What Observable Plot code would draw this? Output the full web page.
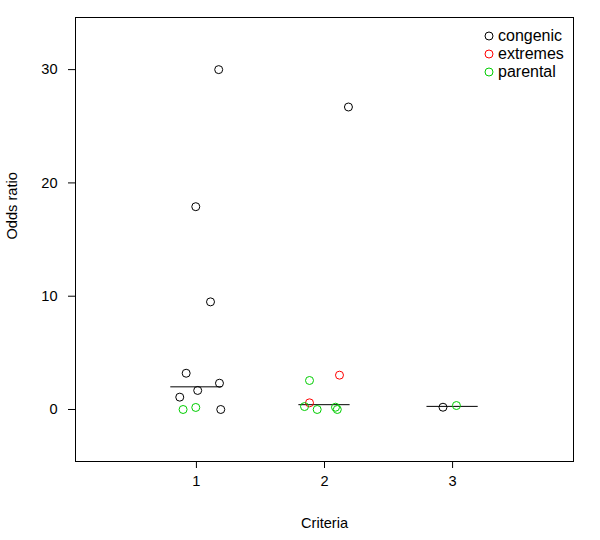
<!DOCTYPE html>
<html>
<head>
<meta charset="utf-8">
<script src="https://cdn.jsdelivr.net/npm/d3@7"></script>
<script src="https://cdn.jsdelivr.net/npm/@observablehq/plot@0.6"></script>
<style>
  html, body { margin: 0; padding: 0; background: #fff; }
  #wrap { position: relative; width: 600px; height: 540px; font-family: "Liberation Sans", Arial, Helvetica, sans-serif; }
  #legend { position: absolute; left: 483px; top: 27.5px; font-size: 16px; color: #000; }
  #legend .row { display: flex; align-items: center; height: 17.7px; }
  #legend svg { margin-right: 3px; }
</style>
</head>
<body>
<div id="wrap"><div id="legend"></div></div>
<script>
// Criteria group of each point
const criteria = [1,1,1,1,1,1,1,1,1,1, 2,2,2,2,2,2,2,2, 3,3];
// Jittered x position of each point
const xJitter = [1.174,0.995,1.11,0.92,1.18,1.01,0.87,1.19,0.896,0.995,
                 2.187,2.117,1.883,1.883,1.844,1.943,2.086,2.10,
                 2.925,3.03];
// Odds ratio values
const oddsRatio = [30.0,17.9,9.5,3.2,2.32,1.68,1.09,0.0,0.0,0.18,
                   26.7,3.03,2.56,0.59,0.26,0.0,0.2,0.0,
                   0.2,0.35];
// Source of each point
const source = ["congenic","congenic","congenic","congenic","congenic","congenic","congenic","congenic","parental","parental",
                "congenic","extremes","parental","extremes","parental","parental","parental","parental",
                "congenic","parental"];
const seriesNames = ["congenic","extremes","parental"];
const seriesColors = ["#000000","#ff0000","#00cd00"];
const xTicks = [1,2,3];
const yTicks = [0,10,20,30];
const xLabel = "Criteria";
const yLabel = "Odds ratio";

const points = criteria.map((c,i) => ({c, x: xJitter[i], y: oddsRatio[i], s: source[i]}));
const medians = xTicks.map(c => ({c, m: d3.median(points.filter(p => p.c === c), p => p.y)}));
const half = 0.2;

const chart = Plot.plot({
  width: 600,
  height: 540,
  marginLeft: 75,
  marginRight: 27,
  marginTop: 17,
  marginBottom: 79,
  style: {fontFamily: '"Liberation Sans", Arial, Helvetica, sans-serif', fontSize: "14.6px", background: "#fff", color: "#000"},
  x: {domain: [0.056, 3.944]},
  y: {domain: [-4.59, 34.6]},
  color: {domain: seriesNames, range: seriesColors},
  marks: [
    Plot.frame({stroke: "#000", strokeWidth: 1}),
    Plot.axisX({ticks: xTicks, tickSize: 7, tickPadding: 7, tickFormat: d => String(d), label: null, fontSize: 14.6}),
    Plot.axisY({ticks: yTicks, tickSize: 7, tickPadding: 11, tickFormat: d => String(d), label: null, fontSize: 14.6}),
    Plot.text([xLabel], {text: d => d, frameAnchor: "bottom", dy: 62, lineAnchor: "middle", fontSize: 14.6}),
    Plot.text([yLabel], {text: d => d, frameAnchor: "left", dx: -63, rotate: -90, lineAnchor: "middle", fontSize: 14.6}),
    Plot.ruleY(medians, {y: "m", x1: d => d.c - half, x2: d => d.c + half, stroke: "#000", strokeWidth: 1}),
    Plot.dot(points, {x: "x", y: "y", stroke: "s", r: 4, strokeWidth: 1, fill: "none"})
  ]
});
document.getElementById("wrap").prepend(chart);

const legend = document.getElementById("legend");
seriesNames.forEach((name, i) => {
  const row = document.createElement("div");
  row.className = "row";
  row.innerHTML = `<svg width="12" height="12"><circle cx="6" cy="6" r="4" fill="none" stroke="${seriesColors[i]}" stroke-width="1"/></svg><span>${name}</span>`;
  legend.appendChild(row);
});
</script>
</body>
</html>
